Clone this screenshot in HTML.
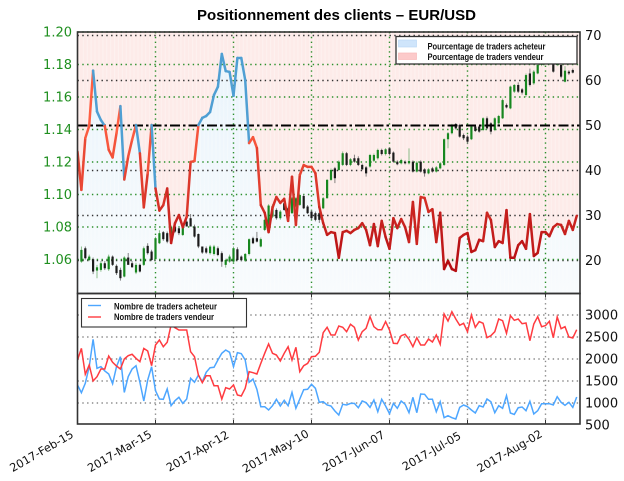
<!DOCTYPE html>
<html>
<head>
<meta charset="utf-8">
<title>Positionnement des clients – EUR/USD</title>
<style>
html,body{margin:0;padding:0;background:#fff;width:624px;height:481px;overflow:hidden}
svg{display:block;position:absolute;left:0;top:0;filter:blur(0.35px)}
text{font-family:"DejaVu Sans",sans-serif}
.lg{font-family:"Liberation Sans",sans-serif;font-weight:bold;font-size:9px;fill:#111}
</style>
</head>
<body>
<svg id="chart" width="624" height="481" viewBox="0 0 624 481" xmlns="http://www.w3.org/2000/svg">
<defs>
<clipPath id="clipTop"><rect x="77.5" y="32" width="502.5" height="261.5"/></clipPath>
<clipPath id="clipBottom"><rect x="77.5" y="293.5" width="502.5" height="130.5"/></clipPath>
<linearGradient id="blueFill" gradientUnits="userSpaceOnUse" x1="0" y1="60" x2="0" y2="293"><stop offset="0" stop-color="#eaf4fb"/><stop offset="1" stop-color="#f8fbfd"/></linearGradient>
</defs>
<g id="fills" clip-path="url(#clipTop)"></g>
<g id="grids"></g>
<g id="candles" clip-path="url(#clipTop)"></g>
<g id="sentiment" clip-path="url(#clipTop)"></g>
<g id="counts" clip-path="url(#clipBottom)"></g>
<rect x="77.5" y="32" width="502.5" height="261.5" fill="none" stroke="#333" stroke-width="1.6"/>
<rect x="77.5" y="293.5" width="502.5" height="130.5" fill="none" stroke="#333" stroke-width="1.6"/>
<g id="ticks"></g>
<text x="336.5" y="20" text-anchor="middle" textLength="279" lengthAdjust="spacingAndGlyphs" style='font-family:"Liberation Sans",sans-serif;font-weight:bold;font-size:14.5px' fill="#000">Positionnement des clients – EUR/USD</text>

<g>
<rect x="396" y="36.5" width="181" height="27.5" fill="#fff" stroke="#333" stroke-width="1.3"/>
<rect x="398.5" y="40" width="18" height="7" fill="#cfe5fb" stroke="#bcd9f6" stroke-width=".7"/>
<rect x="398.5" y="53" width="18" height="6.5" fill="#fccaca" stroke="#f9b9b9" stroke-width=".7"/>
<text class="lg" x="427.5" y="49.5" textLength="118" lengthAdjust="spacingAndGlyphs">Pourcentage de traders acheteur</text>
<text class="lg" x="427.5" y="60" textLength="116" lengthAdjust="spacingAndGlyphs">Pourcentage de traders vendeur</text>
</g>

<g>
<rect x="81.5" y="298.5" width="165" height="28.5" fill="#fff" stroke="#333" stroke-width="1.1"/>
<line x1="88" y1="305.5" x2="101" y2="305.5" stroke="#4da6ff" stroke-width="1.4"/>
<line x1="88" y1="317" x2="101" y2="317" stroke="#ff3b40" stroke-width="1.4"/>
<text class="lg" x="114" y="309.5" textLength="103" lengthAdjust="spacingAndGlyphs">Nombre de traders acheteur</text>
<text class="lg" x="114" y="320" textLength="100" lengthAdjust="spacingAndGlyphs">Nombre de traders vendeur</text>
</g>
</svg>

<script>
var sentimentValues = [44.2,35.7,47.2,49.9,62.2,53.1,51.2,49.9,44.6,42.9,48.3,54.3,38.0,43.1,46.8,50.1,43.8,31.8,39.4,50.1,36.0,31.1,32.3,36.0,23.9,28.3,30.1,27.4,29.7,41.9,42.1,50.1,51.7,52.1,53.0,56.8,58.6,65.9,62.1,61.9,56.6,65.0,65.0,60.1,46.1,47.4,45.0,32.3,30.6,26.3,31.7,34.1,32.8,33.7,28.8,38.6,27.9,39.0,41.2,40.8,40.8,39.4,31.9,28.3,25.7,26.3,26.1,20.6,26.3,26.6,26.1,26.8,27.2,28.3,26.8,23.4,28.1,23.2,28.8,25.2,22.6,29.4,27.2,29.2,27.4,24.1,33.0,23.7,34.1,33.9,30.8,31.4,24.1,30.6,18.1,19.9,18.1,17.7,25.0,25.7,26.1,21.9,22.3,24.6,24.3,30.6,29.0,23.0,24.3,23.9,31.2,20.6,20.6,23.4,24.3,22.6,30.3,21.0,21.7,26.3,26.3,25.4,27.4,28.1,27.9,25.9,28.8,26.8,29.9];
var buyerCounts = [1410,1235,1447,1826,2447,1788,1826,1727,1659,1439,1826,2053,1242,1598,1773,1848,1470,1045,1523,1826,1280,1091,1083,1318,939,1053,1129,992,1091,1561,1470,1636,1485,1697,1803,1811,1977,2129,2205,2152,1826,2144,2121,1977,1470,1545,1311,917,917,841,939,1083,932,1061,939,1242,879,1091,1303,1311,1424,1333,1015,1030,955,932,818,727,970,955,992,992,894,1045,1008,901,1068,803,1083,932,758,992,879,1045,970,780,1129,780,1205,1197,1083,1083,803,1030,667,712,667,636,901,955,917,841,773,939,909,1091,1030,780,939,879,1167,773,742,894,909,826,1038,750,826,985,985,985,955,1144,1015,947,1015,901,1136];
var sellerCounts = [1977,2242,1652,1864,1500,1598,1773,1773,2068,1924,1841,1773,2000,2076,2106,2015,1939,2242,2182,1848,2318,2432,2280,2379,2773,2712,2659,2659,2659,2167,2053,1636,1462,1621,1621,1394,1394,1091,1348,1318,1409,1182,1159,1333,1712,1689,1659,1901,2129,2341,2129,2091,1955,2129,2280,1977,2265,1712,1848,1901,2053,2061,2152,2598,2720,2545,2545,2750,2720,2621,2788,2720,2432,2621,2697,2962,2735,2667,2667,2849,2659,2356,2349,2530,2561,2447,2280,2485,2318,2318,2455,2386,2545,2333,3023,2864,3076,2909,2765,2811,2621,3000,2720,2849,2811,2485,2530,2621,2909,2871,2583,2985,2879,2909,2803,2818,2417,2795,2962,2735,2758,2856,2485,2955,2689,2735,2500,2477,2667];
var opens = [1.0587,1.0669,1.0597,1.0602,1.0532,1.0536,1.0577,1.0540,1.0618,1.0561,1.0536,1.0495,1.0612,1.0577,1.0520,1.0567,1.0567,1.0684,1.0649,1.0602,1.0700,1.0768,1.0762,1.0700,1.0803,1.0792,1.0751,1.0833,1.0854,1.0803,1.0757,1.0680,1.0669,1.0639,1.0634,1.0669,1.0639,1.0567,1.0587,1.0587,1.0663,1.0618,1.0593,1.0634,1.0731,1.0731,1.0680,1.0782,1.0813,1.0864,1.0905,1.0854,1.0946,1.0915,1.0885,1.0926,1.0936,1.0991,1.0926,1.0895,1.0885,1.0885,1.0915,1.0977,1.1090,1.1161,1.1151,1.1182,1.1254,1.1182,1.1223,1.1223,1.1182,1.1167,1.1172,1.1208,1.1223,1.1274,1.1249,1.1284,1.1258,1.1202,1.1192,1.1202,1.1192,1.1202,1.1141,1.1202,1.1155,1.1130,1.1161,1.1141,1.1161,1.1182,1.1340,1.1377,1.1434,1.1428,1.1366,1.1356,1.1340,1.1418,1.1418,1.1397,1.1469,1.1438,1.1397,1.1438,1.1469,1.1551,1.1530,1.1633,1.1674,1.1647,1.1612,1.1745,1.1684,1.1745,1.1797,1.1828,1.1858,1.1807,1.1797,1.1797,1.1694,1.1756,1.1766];
var closes = [1.0659,1.0608,1.0618,1.0526,1.0552,1.0577,1.0546,1.0618,1.0567,1.0516,1.0485,1.0612,1.0567,1.0552,1.0567,1.0526,1.0669,1.0639,1.0597,1.0731,1.0762,1.0725,1.0710,1.0803,1.0772,1.0762,1.0798,1.0803,1.0803,1.0741,1.0680,1.0643,1.0643,1.0680,1.0680,1.0628,1.0587,1.0597,1.0618,1.0669,1.0597,1.0597,1.0634,1.0725,1.0700,1.0710,1.0725,1.0844,1.0932,1.0930,1.0854,1.0895,1.0905,1.0864,1.0977,1.0977,1.0997,1.0915,1.0885,1.0854,1.0844,1.0844,1.0977,1.1090,1.1151,1.1100,1.1202,1.1254,1.1182,1.1217,1.1202,1.1182,1.1155,1.1130,1.1243,1.1243,1.1274,1.1249,1.1278,1.1249,1.1202,1.1186,1.1212,1.1192,1.1206,1.1141,1.1196,1.1141,1.1130,1.1155,1.1141,1.1167,1.1192,1.1340,1.1377,1.1428,1.1407,1.1356,1.1346,1.1325,1.1418,1.1391,1.1387,1.1469,1.1407,1.1387,1.1469,1.1483,1.1581,1.1536,1.1664,1.1674,1.1633,1.1627,1.1735,1.1674,1.1756,1.1797,1.1838,1.1868,1.1817,1.1756,1.1817,1.1725,1.1762,1.1745,1.1750];
var highs = [1.0680,1.0680,1.0630,1.0612,1.0567,1.0590,1.0590,1.0630,1.0625,1.0570,1.0550,1.0620,1.0640,1.0590,1.0580,1.0575,1.0680,1.0700,1.0660,1.0740,1.0780,1.0775,1.0772,1.0810,1.0810,1.0800,1.0805,1.0840,1.0880,1.0815,1.0760,1.0680,1.0680,1.0690,1.0690,1.0680,1.0650,1.0605,1.0630,1.0680,1.0675,1.0625,1.0640,1.0730,1.0740,1.0770,1.0735,1.0850,1.0940,1.0940,1.0915,1.0905,1.0955,1.0925,1.0985,1.0985,1.1005,1.1000,1.0935,1.0905,1.0895,1.0895,1.0985,1.1095,1.1160,1.1170,1.1210,1.1265,1.1262,1.1225,1.1245,1.1235,1.1190,1.1175,1.1250,1.1252,1.1282,1.1282,1.1285,1.1290,1.1265,1.1210,1.1220,1.1210,1.1284,1.1210,1.1205,1.1210,1.1162,1.1162,1.1170,1.1175,1.1200,1.1345,1.1385,1.1435,1.1440,1.1435,1.1375,1.1365,1.1425,1.1425,1.1425,1.1475,1.1480,1.1445,1.1475,1.1490,1.1590,1.1560,1.1670,1.1680,1.1690,1.1655,1.1745,1.1775,1.1765,1.1805,1.1845,1.1875,1.1865,1.1815,1.1825,1.1805,1.1790,1.1765,1.1775];
var lows = [1.0580,1.0600,1.0590,1.0510,1.0485,1.0525,1.0535,1.0530,1.0560,1.0505,1.0470,1.0490,1.0590,1.0550,1.0510,1.0520,1.0560,1.0630,1.0590,1.0595,1.0695,1.0715,1.0700,1.0695,1.0765,1.0750,1.0745,1.0825,1.0845,1.0735,1.0670,1.0635,1.0635,1.0630,1.0625,1.0620,1.0555,1.0550,1.0580,1.0580,1.0590,1.0590,1.0585,1.0625,1.0695,1.0705,1.0675,1.0775,1.0805,1.0855,1.0845,1.0845,1.0900,1.0855,1.0880,1.0920,1.0930,1.0910,1.0880,1.0845,1.0835,1.0825,1.0910,1.0975,1.1085,1.1070,1.1145,1.1175,1.1175,1.1175,1.1195,1.1175,1.1150,1.1110,1.1165,1.1200,1.1215,1.1240,1.1240,1.1240,1.1195,1.1180,1.1185,1.1185,1.1185,1.1135,1.1135,1.1135,1.1110,1.1125,1.1135,1.1135,1.1155,1.1175,1.1285,1.1370,1.1400,1.1350,1.1335,1.1310,1.1335,1.1385,1.1380,1.1390,1.1400,1.1370,1.1390,1.1430,1.1465,1.1530,1.1525,1.1625,1.1625,1.1615,1.1600,1.1665,1.1675,1.1740,1.1790,1.1820,1.1810,1.1750,1.1790,1.1715,1.1690,1.1735,1.1745];
var priceTicks = ["1.20","1.18","1.16","1.14","1.12","1.10","1.08","1.06"];
var percentTicks = [70,60,50,40,30,20];
var countTicks = [3000,2500,2000,1500,1000,500];
var dateTickIndex = [0,20,40,60,80,100,120];
var dateTickLabels = ["2017-Feb-15","2017-Mar-15","2017-Apr-12","2017-May-10","2017-Jun-07","2017-Jul-05","2017-Aug-02"];
var neutralLevel = 50;

var NS = "http://www.w3.org/2000/svg";
function xS(i){ return 77.5 + 3.9 * i; }
function yPrice(p){ return 32 + (1.20 - p) * 1625; }
function yPct(v){ return 125.5 - (v - 50) * 4.5; }
function yCount(n){ return 315 + (3000 - n) * 0.044; }
function mk(tag, parent, attrs, txt){
  var el = document.createElementNS(NS, tag);
  for (var k in attrs) el.setAttribute(k, attrs[k]);
  if (txt !== undefined) el.textContent = txt;
  parent.appendChild(el);
  return el;
}
var fills = document.getElementById('fills');
var grids = document.getElementById('grids');
var candlesG = document.getElementById('candles');
var sentimentG = document.getElementById('sentiment');
var countsG = document.getElementById('counts');
var ticksG = document.getElementById('ticks');
var el;

/* area fills */
var lastIdx = sentimentValues.length - 1;
var pts = sentimentValues.map(function(v,i){ return xS(i).toFixed(1) + ',' + yPct(v).toFixed(1); }).join(' ');
el = mk('rect', fills, {x:77.5, y:32, width:502.5, height:261.5, fill:'#fdebe9'});


el = mk('polygon', fills, {points:'77.5,293.5 ' + pts + ' 580,' + yPct(sentimentValues[lastIdx]).toFixed(1) + ' 580,293.5', fill:'url(#blueFill)'});


sentimentValues.forEach(function(v,i){
  var s = mk('rect', fills, {x:xS(i)+1.4, y:32, width:1.1, height:261.5, fill:'#fff', 'fill-opacity':0.3});
  
  
});

/* grids */
dateTickIndex.forEach(function(idx){
  if (idx === 0) return;
  var x = xS(idx);
  var a = mk('line', grids, {x1:x, y1:32, x2:x, y2:293.5, stroke:'#2c902c', 'stroke-width':1.4, 'stroke-dasharray':'1.4 3.4'});
  
  
  var b = mk('line', grids, {x1:x, y1:293.5, x2:x, y2:424, stroke:'#8a8a8a', 'stroke-width':1.4, 'stroke-dasharray':'1.4 3.4'});
  
  
});
percentTicks.forEach(function(v){
  if (v === neutralLevel) return;
  var g = mk('line', grids, {x1:77.5, y1:yPct(v), x2:580, y2:yPct(v), stroke:'#333', 'stroke-width':1.4, 'stroke-dasharray':'1.4 3.4'});
  
  
});
priceTicks.forEach(function(t){
  var y = yPrice(parseFloat(t));
  var g = mk('line', grids, {x1:77.5, y1:y, x2:580, y2:y, stroke:'#2c902c', 'stroke-width':1.4, 'stroke-dasharray':'1.4 3.4'});
  
  
});
countTicks.forEach(function(n){
  if (n === 500) return;
  var g = mk('line', grids, {x1:77.5, y1:yCount(n), x2:580, y2:yCount(n), stroke:'#8a8a8a', 'stroke-width':1.4, 'stroke-dasharray':'1.4 3.4'});
  
  
});

/* candles */
opens.forEach(function(o,k){
  var c = closes[k], x = xS(k + 1), up = c >= o;
  var w = mk('line', candlesG, {x1:x, x2:x, y1:yPrice(highs[k]), y2:yPrice(lows[k]), stroke: up ? '#7fb87f' : '#777', 'stroke-width':0.9});
  
  
  var top = yPrice(Math.max(o,c)), bot = yPrice(Math.min(o,c));
  var b = mk('rect', candlesG, {x:x-1.1, y:top, width:2.2, height:Math.max(bot-top,1), fill: up ? '#17871f' : '#1b1b1b'});
  
  
});

/* neutral line */
el = mk('line', sentimentG, {x1:77.5, y1:yPct(neutralLevel), x2:580, y2:yPct(neutralLevel), stroke:'#000', 'stroke-width':2, 'stroke-dasharray':'10 3 2.5 3'});



/* sentiment line */
function redFor(v){
  var t = Math.max(0, Math.min(1, (v - 20) / 30));
  var r = Math.round(181 + (255-181)*t), g = Math.round(13 + (95-13)*t), b = Math.round(18 + (66-18)*t);
  return 'rgb(' + r + ',' + g + ',' + b + ')';
}
for (var i = 0; i < sentimentValues.length - 1; i++){
  var v0 = sentimentValues[i], v1 = sentimentValues[i+1];
  var col = v0 >= neutralLevel ? '#4f9fd3' : redFor((v0 + v1) / 2);
  var seg = mk('line', sentimentG, {x1:xS(i), y1:yPct(v0), x2:xS(i+1), y2:yPct(v1), stroke:col, 'stroke-width':2.5, 'stroke-linecap':'round'});
  
  
}

/* trader count lines */
el = mk('polyline', countsG, {points:buyerCounts.map(function(n,i){ return xS(i).toFixed(1)+','+yCount(n).toFixed(1); }).join(' '), fill:'none', stroke:'#4da6ff', 'stroke-width':1.5});


el = mk('polyline', countsG, {points:sellerCounts.map(function(n,i){ return xS(i).toFixed(1)+','+yCount(n).toFixed(1); }).join(' '), fill:'none', stroke:'#ff3b40', 'stroke-width':1.5});



/* ticks and labels */
priceTicks.forEach(function(t){
  var y = yPrice(parseFloat(t));
  var l = mk('text', ticksG, {x:72, y:y+4.7, 'text-anchor':'end', 'font-size':13, fill:'#1f8f1f'}, t);
  
  
});
percentTicks.forEach(function(v){
  var l = mk('text', ticksG, {x:585, y:yPct(v)+4.7, 'font-size':13, fill:'#111'}, v);
  
  
});
countTicks.forEach(function(n){
  var l = mk('text', ticksG, {x:585, y:yCount(n)+4.7, 'font-size':13, fill:'#111'}, n);
  
  
});
dateTickIndex.forEach(function(idx, k){
  var x = xS(idx);
  var cx = x - 36, cy = 455;
  var l = mk('text', ticksG, {x:cx, y:cy, 'text-anchor':'middle', 'font-size':11.3, fill:'#111', transform:'rotate(-30 ' + cx + ' 451)'}, dateTickLabels[k]);
  
  
  if (idx !== 0){
    var t = mk('line', ticksG, {x1:x, y1:293.5, x2:x, y2:297.5, stroke:'#333', 'stroke-width':1});
    
    
    var u = mk('line', ticksG, {x1:x, y1:420, x2:x, y2:424, stroke:'#333', 'stroke-width':1});
    
    
  }
});
</script>
</body>
</html>
